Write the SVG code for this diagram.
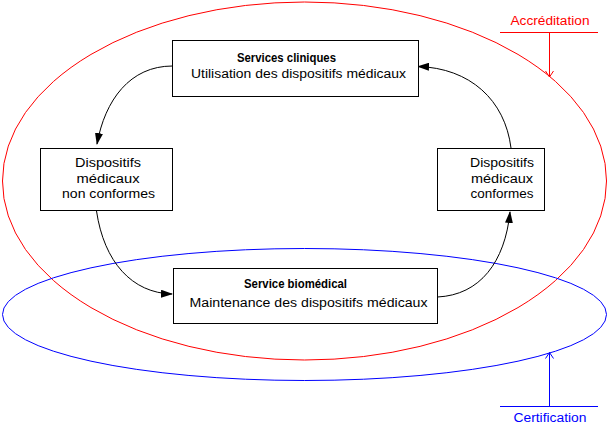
<svg xmlns="http://www.w3.org/2000/svg" width="608" height="438" viewBox="0 0 608 438">
<defs>
<marker id="ah" markerWidth="12" markerHeight="8" refX="11" refY="4" orient="auto" markerUnits="userSpaceOnUse">
<path d="M0,0 L12,4 L0,8 Z" fill="#000"/>
</marker>
<marker id="oaR" markerWidth="8" markerHeight="10" refX="6" refY="5" orient="auto" markerUnits="userSpaceOnUse">
<path d="M0,1 L6,5 L0,9" fill="none" stroke="#ff0000" stroke-width="1"/>
</marker>
<marker id="oaB" markerWidth="8" markerHeight="10" refX="6" refY="5" orient="auto" markerUnits="userSpaceOnUse">
<path d="M0,1 L6,5 L0,9" fill="none" stroke="#0000ff" stroke-width="1"/>
</marker>
</defs>
<style>
.box{fill:#fff;stroke:#000;stroke-width:1}
.t{font-family:"Liberation Sans",Arial,sans-serif;font-size:12px;fill:#000}
.b{font-weight:bold}
.c{text-anchor:middle}
.conn{fill:none;stroke:#000;stroke-width:1;marker-end:url(#ah)}
</style>
<rect width="608" height="438" fill="#fff"/>
<g id="accreditation">
<ellipse cx="304.5" cy="181" rx="302" ry="179" fill="none" stroke="#ff0000" stroke-width="1"/>
<line x1="500" y1="32.5" x2="598" y2="32.5" stroke="#ff0000"/>
<line x1="549.5" y1="32.5" x2="549.5" y2="77" stroke="#ff0000" marker-end="url(#oaR)"/>
<text x="510.5" y="25" class="t" style="fill:#ff0000" textLength="79" lengthAdjust="spacingAndGlyphs">Accréditation</text>
</g>
<g id="certification">
<ellipse cx="304.5" cy="314.5" rx="302" ry="66" fill="none" stroke="#0000ff" stroke-width="1"/>
<line x1="500" y1="406.5" x2="598" y2="406.5" stroke="#0000ff"/>
<line x1="549.5" y1="406.5" x2="549.5" y2="352.5" stroke="#0000ff" marker-end="url(#oaB)"/>
<text x="513.5" y="422" class="t" style="fill:#0000ff" textLength="73" lengthAdjust="spacingAndGlyphs">Certification</text>
</g>
<g id="connectors">
<path class="conn" d="M172.5,66 C130,66 105,100 97,144"/>
<path class="conn" d="M96.5,211 C104,262 132,293 172,294"/>
<path class="conn" d="M437.5,297 C480,295 505,262 510,212"/>
<path class="conn" d="M511,148 C505,100 470,68 418,66.5"/>
</g>
<g id="services-cliniques">
<rect class="box" x="172.5" y="40.5" width="246" height="56"/>
<text x="237" y="62" class="t b" textLength="99" lengthAdjust="spacingAndGlyphs">Services cliniques</text>
<text x="191" y="78" class="t" textLength="215" lengthAdjust="spacingAndGlyphs">Utilisation des dispositifs médicaux</text>
</g>
<g id="non-conformes">
<rect class="box" x="40.5" y="148.5" width="132" height="62"/>
<text x="108" y="167" class="t c" textLength="66" lengthAdjust="spacingAndGlyphs">Dispositifs</text>
<text x="108" y="183" class="t c" textLength="63" lengthAdjust="spacingAndGlyphs">médicaux</text>
<text x="108.5" y="198" class="t c" textLength="93" lengthAdjust="spacingAndGlyphs">non conformes</text>
</g>
<g id="conformes">
<rect class="box" x="437.5" y="148.5" width="107" height="62"/>
<text x="502" y="167" class="t c" textLength="64" lengthAdjust="spacingAndGlyphs">Dispositifs</text>
<text x="502" y="183" class="t c" textLength="62" lengthAdjust="spacingAndGlyphs">médicaux</text>
<text x="502" y="198" class="t c" textLength="63" lengthAdjust="spacingAndGlyphs">conformes</text>
</g>
<g id="service-biomedical">
<rect class="box" x="173.5" y="268.5" width="264" height="55"/>
<text x="244" y="288" class="t b" textLength="103" lengthAdjust="spacingAndGlyphs">Service biomédical</text>
<text x="189.5" y="306.5" class="t" textLength="238" lengthAdjust="spacingAndGlyphs">Maintenance des dispositifs médicaux</text>
</g>
</svg>
